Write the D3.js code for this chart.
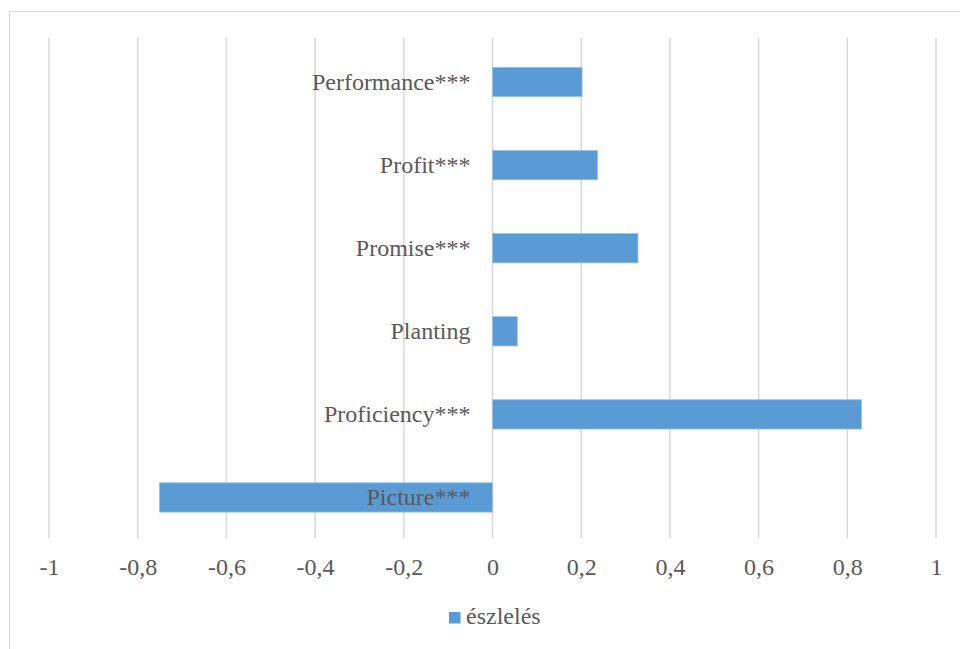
<!DOCTYPE html>
<html><head><meta charset="utf-8">
<script src="https://cdn.jsdelivr.net/npm/d3@7"></script>
<style>body{margin:0;background:#fff}svg{display:block}</style>
</head><body>
<svg id="chart" width="960" height="649"></svg>
<script>
const categories = ["Performance***","Profit***","Promise***","Planting","Proficiency***","Picture***"];
const values = [0.202, 0.237, 0.328, 0.056, 0.832, -0.751];
const tickValues = [-1,-0.8,-0.6,-0.4,-0.2,0,0.2,0.4,0.6,0.8,1];
const seriesName = "észlelés";

const svg = d3.select("#chart");
const font = '"Liberation Serif", "Times New Roman", serif';
const textColor = "#595959";

svg.append("rect").attr("x",9.5).attr("y",11.5).attr("width",1000).attr("height",700)
  .attr("fill","#fff").attr("stroke","#d9d9d9").attr("stroke-width",1);

const x = d3.scaleLinear().domain([-1,1]).range([49,936]);
const y = d3.scaleBand().domain(categories).range([40.5,539]).paddingInner(0.647).paddingOuter(0.3235);

// gridlines
svg.append("g").selectAll("line").data(tickValues).join("line")
  .attr("x1",d=>x(d)).attr("x2",d=>x(d)).attr("y1",38).attr("y2",538)
  .attr("stroke","#d9d9d9").attr("stroke-width",1.5);

// bars
svg.append("g").selectAll("rect").data(categories).join("rect")
  .attr("x",(d,i)=>x(Math.min(0,values[i])))
  .attr("width",(d,i)=>Math.abs(x(values[i])-x(0)))
  .attr("y",d=>y(d)).attr("height",y.bandwidth())
  .attr("fill","#5b9bd5").attr("stroke","#9dc3e6").attr("stroke-width",0.8);

// category labels
svg.append("g").selectAll("text").data(categories).join("text")
  .attr("x",x(0)-22).attr("y",d=>y(d)+y.bandwidth()/2+7.5)
  .attr("text-anchor","end").attr("font-size",24)
  .style("font-family",font).attr("fill",textColor)
  .text(d=>d);

// x axis tick labels
const axis = d3.axisBottom(x).tickValues(tickValues).tickSize(0).tickPadding(0)
  .tickFormat(d=>String(d).replace(".",","));
const ag = svg.append("g").attr("transform","translate(0,575)").call(axis);
ag.select(".domain").remove();
ag.selectAll("text").attr("dy",null).attr("y",0)
  .style("font-family",font).attr("font-size",24).attr("fill",textColor);

// legend
svg.append("rect").attr("x",449).attr("y",612).attr("width",11.5).attr("height",11.5).attr("fill","#5b9bd5");
svg.append("text").attr("x",466).attr("y",624)
  .style("font-family",font).attr("font-size",24).attr("fill",textColor).text(seriesName);
</script>
</body></html>
